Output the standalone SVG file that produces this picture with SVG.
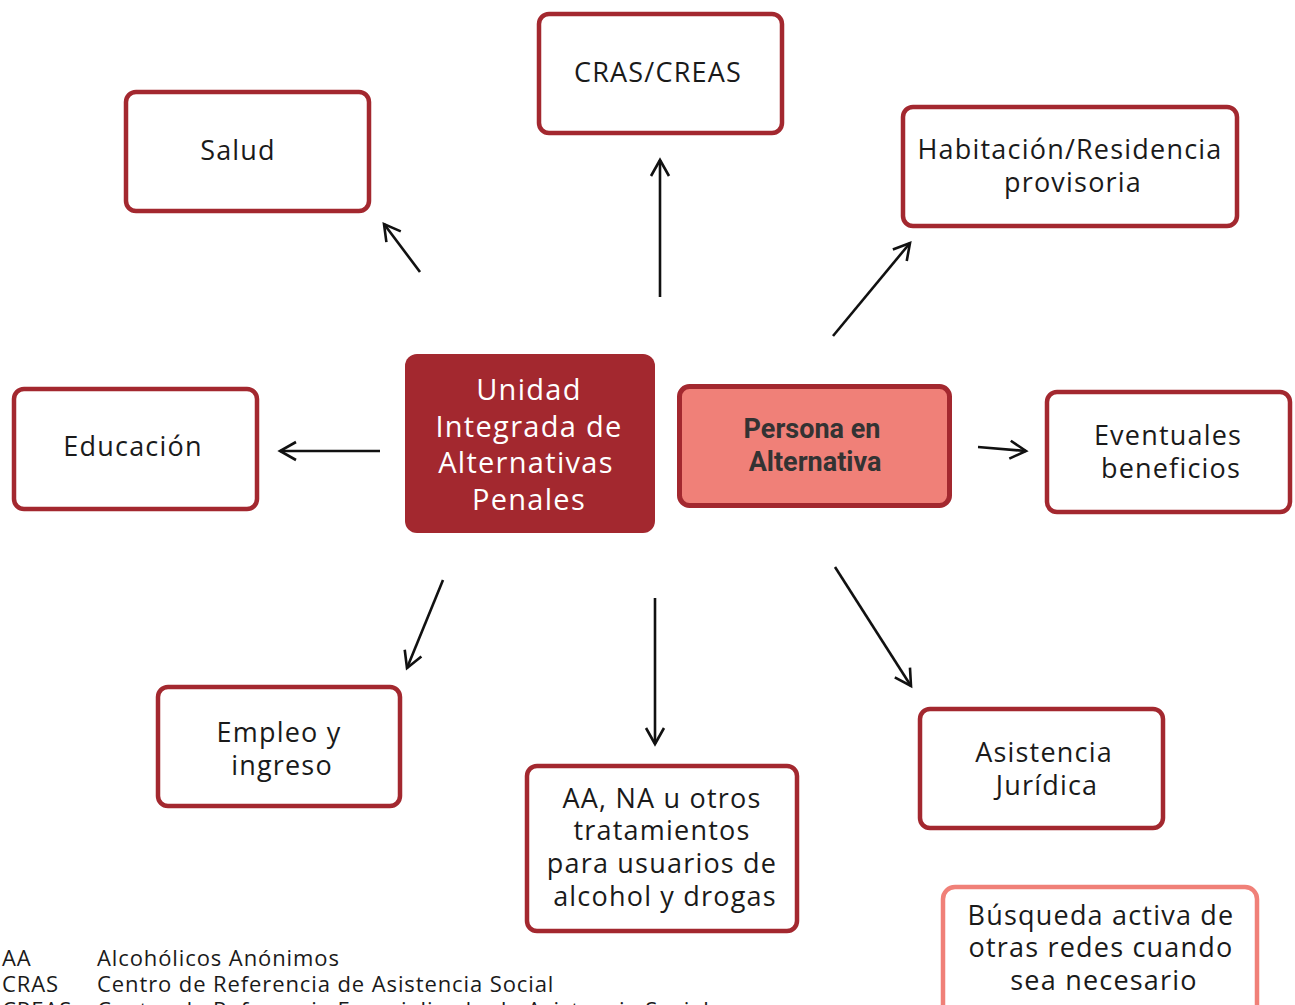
<svg xmlns="http://www.w3.org/2000/svg" width="1295" height="1005" viewBox="0 0 1295 1005">
<defs>
<marker id="ah" markerUnits="userSpaceOnUse" markerWidth="24" markerHeight="24" viewBox="0 0 24 24" refX="20" refY="12" orient="auto">
<path d="M4,3 L20,12 L4,21" fill="none" stroke="#111" stroke-width="2.6"/>
</marker>
<style>
.box{fill:#fff;stroke:#a3282f;stroke-width:4.5}
.t{font-family:"Open Sans","DejaVu Sans",sans-serif;font-size:27px;letter-spacing:1.2px;fill:#1a1a1a;text-anchor:middle}
.w{fill:#fff;font-size:29px;letter-spacing:1.3px}
.b{font-family:Roboto,"Liberation Sans",sans-serif;font-weight:bold;font-size:27px;fill:#333;text-anchor:middle}
.lg{font-family:"Open Sans","DejaVu Sans",sans-serif;font-size:22px;letter-spacing:0.9px;fill:#1a1a1a}
.c{stroke:#111;stroke-width:2.6;fill:none;marker-end:url(#ah)}
</style>
</defs>
<g id="connectors">
<line class="c" x1="420" y1="272" x2="384" y2="224"/>
<line class="c" x1="660" y1="297" x2="660" y2="160"/>
<line class="c" x1="833" y1="336" x2="910" y2="243"/>
<line class="c" x1="380" y1="451" x2="280" y2="451"/>
<line class="c" x1="978" y1="447" x2="1026" y2="451"/>
<line class="c" x1="443" y1="580" x2="407" y2="668"/>
<line class="c" x1="655" y1="598" x2="655" y2="744"/>
<line class="c" x1="835" y1="567" x2="911" y2="686"/>
</g>
<g id="salud">
<rect class="box" x="126" y="92" width="243" height="119" rx="10"/>
<text class="t" x="238" y="160">Salud</text>
</g>
<g id="cras">
<rect class="box" x="539" y="14" width="243" height="119" rx="10"/>
<text class="t" x="658" y="82">CRAS/CREAS</text>
</g>
<g id="habitacion">
<rect class="box" x="903" y="107" width="334" height="119" rx="10"/>
<text class="t" x="1070" y="159">Habitación/Residencia</text>
<text class="t" x="1073" y="192">provisoria</text>
</g>
<g id="educacion">
<rect class="box" x="14" y="389" width="243" height="120" rx="10"/>
<text class="t" x="133" y="456">Educación</text>
</g>
<g id="unidad">
<rect x="405" y="354" width="250" height="179" rx="12" fill="#a3282f"/>
<text class="t w" x="529" y="400">Unidad</text>
<text class="t w" x="529" y="437">Integrada de</text>
<text class="t w" x="526" y="473">Alternativas</text>
<text class="t w" x="529" y="510">Penales</text>
</g>
<g id="persona">
<rect x="679.5" y="386.5" width="270" height="119" rx="10" fill="#f08078" stroke="#a3282f" stroke-width="5"/>
<text class="b" x="812" y="438">Persona en</text>
<text class="b" x="815" y="471">Alternativa</text>
</g>
<g id="eventuales">
<rect class="box" x="1047" y="392" width="243" height="120" rx="10"/>
<text class="t" x="1168" y="445">Eventuales</text>
<text class="t" x="1171" y="478">beneficios</text>
</g>
<g id="empleo">
<rect class="box" x="158" y="687" width="242" height="119" rx="10"/>
<text class="t" x="279" y="742">Empleo y</text>
<text class="t" x="282" y="775">ingreso</text>
</g>
<g id="aa">
<rect class="box" x="527" y="766" width="270" height="165" rx="10"/>
<text class="t" x="662" y="808">AA, NA u otros</text>
<text class="t" x="662" y="840">tratamientos</text>
<text class="t" x="662" y="873">para usuarios de</text>
<text class="t" x="665" y="906">alcohol y drogas</text>
</g>
<g id="asistencia">
<rect class="box" x="920" y="709" width="243" height="119" rx="10"/>
<text class="t" x="1044" y="762">Asistencia</text>
<text class="t" x="1047" y="795">Jurídica</text>
</g>
<g id="busqueda">
<rect x="943" y="887" width="314" height="130" rx="12" fill="#fff" stroke="#f08078" stroke-width="4.5"/>
<text class="t" x="1101" y="925">Búsqueda activa de</text>
<text class="t" x="1101" y="957">otras redes cuando</text>
<text class="t" x="1104" y="990">sea necesario</text>
</g>
<g id="legend">
<text class="lg" x="2" y="966">AA</text>
<text class="lg" x="97" y="966">Alcohólicos Anónimos</text>
<text class="lg" x="2" y="992">CRAS</text>
<text class="lg" x="97" y="992">Centro de Referencia de Asistencia Social</text>
<text class="lg" x="2" y="1018">CREAS</text>
<text class="lg" x="97" y="1018">Centro de Referencia Especializado de Asistencia Social</text>
</g>
</svg>
